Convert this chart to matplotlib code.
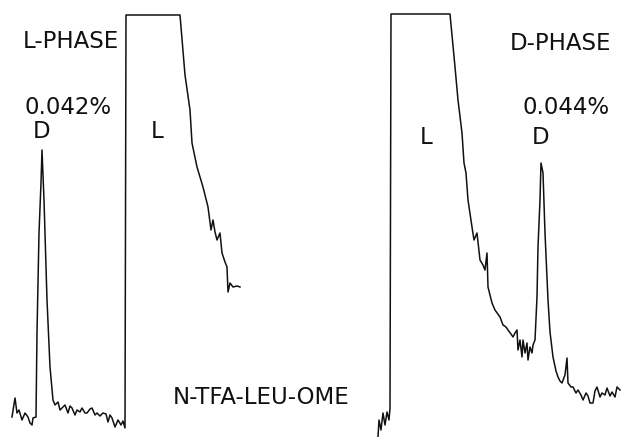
import matplotlib.pyplot as plt

# chromatogram traces (time, detector response)
left_t = [12, 15, 17, 19, 22, 25, 28, 30, 32, 33, 36, 37, 39, 41, 42, 44, 47, 50, 53,
          55, 58, 60, 62, 65, 68, 70, 72, 75, 77, 80, 82, 85, 87, 90, 92, 95, 97, 100,
          103, 106, 108, 110, 112, 115, 118, 121, 123, 125, 126, 180, 185, 190, 192,
          197, 203, 208, 211, 213, 215, 217, 220, 222, 225, 227, 228, 230, 233, 237, 240]
left_y = [20, 39, 24, 27, 17, 24, 20, 14, 12, 19, 20, 104, 204, 254, 287, 237, 137, 70, 37,
          32, 35, 27, 29, 32, 24, 31, 29, 22, 27, 25, 29, 24, 24, 28, 29, 22, 24, 21,
          24, 23, 15, 22, 19, 10, 17, 12, 16, 9, 422, 422, 362, 327, 294,
          270, 250, 230, 207, 217, 205, 197, 204, 184, 175, 170, 145, 154, 150, 151, 150]

right_t = [378, 379, 381, 383, 385, 387, 389, 390, 391, 450, 455, 458, 462, 464, 466, 468,
           472, 474, 477, 480, 483, 485, 487, 488, 492, 495, 500, 503, 506, 508, 511, 513,
           515, 517, 518, 520, 522, 523, 525, 527, 528, 530, 532, 533, 535, 537, 538, 540,
           541, 543, 545, 548, 550, 553, 556, 558, 560, 562, 565, 567, 568, 571, 573, 576,
           578, 581, 583, 586, 588, 590, 593, 595, 597, 600, 602, 605, 607, 610, 612, 615,
           617, 620]
right_y = [0, 17, 7, 24, 12, 25, 17, 29, 423, 423, 370, 337, 304, 274, 264, 237,
           210, 197, 204, 177, 172, 167, 184, 150, 134, 127, 120, 112, 110, 107, 103, 100,
           104, 107, 87, 97, 80, 97, 84, 94, 77, 90, 84, 92, 97, 140, 190, 237,
           274, 264, 204, 137, 105, 80, 66, 60, 56, 54, 62, 79, 54, 50, 50, 44,
           47, 42, 37, 44, 41, 34, 34, 46, 50, 40, 44, 42, 49, 41, 45, 40,
           50, 47]

labels = [
    ("L-PHASE", 71, 395),
    ("0.042%", 68, 330),
    ("D", 42, 305),
    ("L", 157, 305),
    ("N-TFA-LEU-OME", 261, 39),
    ("D-PHASE", 561, 394),
    ("0.044%", 566, 329),
    ("L", 426, 299),
    ("D", 541, 299),
]

fig = plt.figure(figsize=(6.22, 4.37), dpi=100)
ax = fig.add_axes([0, 0, 1, 1])

ax.plot(left_t, left_y, color="#111111", lw=1.1)
ax.plot(right_t, right_y, color="#111111", lw=1.1)

for txt, x, y in labels:
    ax.text(x, y, txt, ha="center", va="center", fontsize=16.5,
            color="#111111", family="DejaVu Sans")

ax.set_xlim(0, 622)
ax.set_ylim(0, 437)
ax.axis("off")

fig.savefig("out.png", dpi=100)
